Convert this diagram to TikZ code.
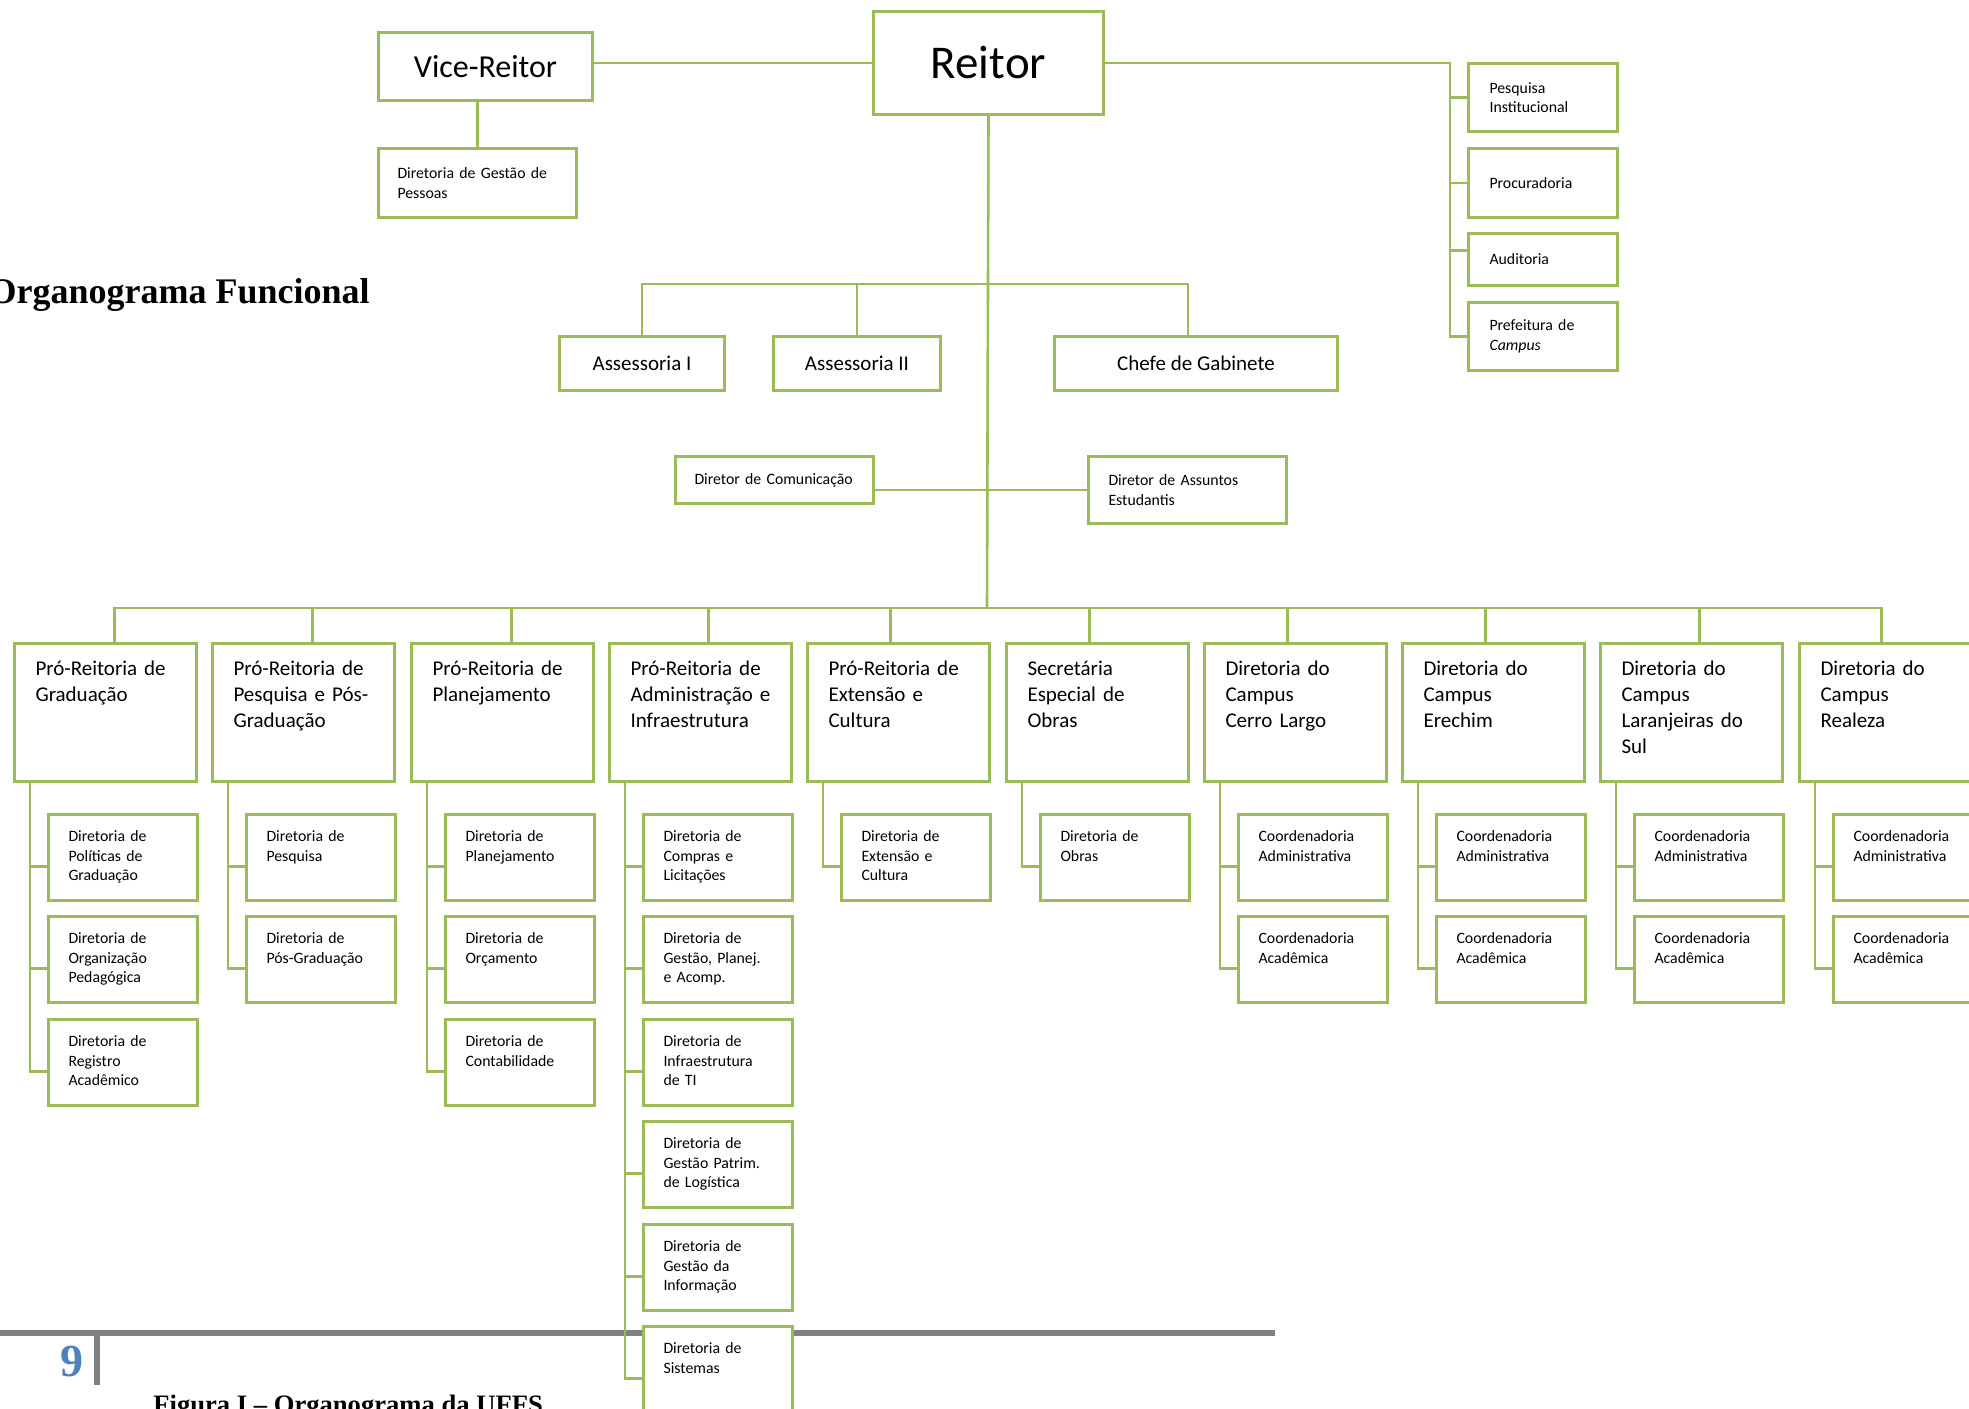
\documentclass[tikz,border=0pt]{standalone}
\usepackage{fontspec}
\setmainfont{Carlito}
\newfontfamily\timesfont{Liberation Serif}
\usepackage{tikz}

\definecolor{orggreen}{HTML}{9BBB59}
\definecolor{footgray}{HTML}{808080}
\definecolor{pageblue}{HTML}{4F81BD}

\def\bigfont{\fontsize{10.5}{13}\selectfont}
\def\smallfont{\fontsize{7.9}{9.75}\selectfont}

\tikzset{
	unit/.style={draw=orggreen, line width=1.5pt, fill=white, anchor=north west, inner sep=0pt},
	link/.style={draw=orggreen, line width=1.3pt},
	headcell/.style={unit, align=center},
	sidecell/.style={unit, inner xsep=10.5pt, text width=53.5pt, align=left, font=\smallfont},
	prcell/.style={unit, inner xsep=10.5pt, text width=70pt, align=left, text height=16pt, text depth=53pt, font=\bigfont},
	subcell/.style={unit, inner xsep=10pt, text width=54.5pt, align=left, text height=13.5pt, text depth=29.5pt, font=\smallfont},
	plain/.style={inner sep=0pt},
}

\begin{document}
\begin{tikzpicture}[x=0.5pt, y=-0.5pt]
		%%%%% START %%%%%
		\useasboundingbox (0, 0) rectangle (1969, 1408);
		
		\draw[line width=3pt, color=footgray] (0, 1333) -- (1275, 1333);
		\draw[line width=3pt, color=footgray] (97, 1336) -- (97, 1385);
		
		\node[plain, anchor=base east, font=\timesfont\bfseries\fontsize{18}{22}\selectfont] (title) at (370, 303) {Organograma Funcional};
		\node[plain, anchor=base, text=pageblue, font=\timesfont\bfseries\fontsize{23}{27}\selectfont] (pagenum) at (71.5, 1376) {9};
		\node[plain, anchor=base west, font=\timesfont\bfseries\fontsize{13.3}{16}\selectfont] (caption) at (153, 1413) {Figura I – Organograma da UFFS};
		
		\node[headcell, minimum width=115pt, minimum height=51.5pt, font=\fontsize{23.5}{28}\selectfont] (reitor) at (872, 10) {Reitor};
		\node[headcell, minimum width=107pt, minimum height=34pt, font=\fontsize{16}{19}\selectfont] (vice) at (377, 31) {Vice-Reitor};
		\node[sidecell, text width=80pt, inner xsep=9.5pt, minimum height=34.5pt] (pessoas) at (377, 147) {Diretoria de Gestão de\\Pessoas};
		
		\node[sidecell, minimum height=34pt] (pesqinst) at (1467, 62) {Pesquisa\\Institucional};
		\node[sidecell, minimum height=34.5pt] (procur) at (1467, 147) {Procuradoria};
		\node[sidecell, minimum height=26pt] (audit) at (1467, 232) {Auditoria};
		\node[sidecell, minimum height=34pt] (prefeit) at (1467, 301) {Prefeitura de\\\textit{Campus}};
		
		\node[headcell, minimum width=82.5pt, minimum height=27pt, font=\bigfont] (assessI) at (558, 335) {Assessoria I};
		\node[headcell, minimum width=83.5pt, minimum height=27pt, font=\bigfont] (assessII) at (772, 335) {Assessoria II};
		\node[headcell, minimum width=141.5pt, minimum height=27pt, font=\bigfont] (chefe) at (1053, 335) {Chefe de Gabinete};
		
		\node[sidecell, text width=80pt, inner xsep=9.5pt, minimum height=23.5pt] (comunic) at (674, 455) {Diretor de Comunicação};
		\node[sidecell, text width=79pt, inner xsep=10pt, minimum height=33.5pt] (estud) at (1087, 455) {Diretor de Assuntos\\Estudantis};
		
		% pro-reitorias, secretaria e campi
		\node[prcell] (prgrad) at (13, 642) {Pró-Reitoria de\\Graduação};
		\node[prcell] (prpesq) at (211, 642) {Pró-Reitoria de\\Pesquisa e Pós-\\Graduação};
		\node[prcell] (prplan) at (410, 642) {Pró-Reitoria de\\Planejamento};
		\node[prcell] (pradm) at (608, 642) {Pró-Reitoria de\\Administração~e\\Infraestrutura};
		\node[prcell] (prext) at (806, 642) {Pró-Reitoria de\\Extensão e\\Cultura};
		\node[prcell] (secobras) at (1005, 642) {Secretária\\Especial de\\Obras};
		\node[prcell] (dcerro) at (1203, 642) {Diretoria do\\Campus\\Cerro Largo};
		\node[prcell] (derech) at (1401, 642) {Diretoria do\\Campus\\Erechim};
		\node[prcell] (dlaran) at (1599, 642) {Diretoria do\\Campus\\Laranjeiras do\\Sul};
		\node[prcell] (dreal) at (1798, 642) {Diretoria do\\Campus\\Realeza};
		
		\node[subcell] (dpolit) at (47, 813) {Diretoria de\\Políticas de\\Graduação};
		\node[subcell] (dorgped) at (47, 915) {Diretoria de\\Organização\\Pedagógica};
		\node[subcell] (dregacad) at (47, 1018) {Diretoria de\\Registro\\Acadêmico};
		
		\node[subcell] (dpesq) at (245, 813) {Diretoria de\\Pesquisa};
		\node[subcell] (dposgrad) at (245, 915) {Diretoria de\\Pós-Graduação};
		
		\node[subcell] (dplan) at (444, 813) {Diretoria de\\Planejamento};
		\node[subcell] (dorcam) at (444, 915) {Diretoria de\\Orçamento};
		\node[subcell] (dcontab) at (444, 1018) {Diretoria de\\Contabilidade};
		
		\node[subcell] (dcompras) at (642, 813) {Diretoria de\\Compras e\\Licitações};
		\node[subcell] (dgestplan) at (642, 915) {Diretoria de\\Gestão, Planej.\\e Acomp.};
		\node[subcell] (dinfra) at (642, 1018) {Diretoria de\\Infraestrutura\\de TI};
		\node[subcell] (dpatrim) at (642, 1120) {Diretoria de\\Gestão Patrim.\\de Logística};
		\node[subcell] (dinform) at (642, 1223) {Diretoria de\\Gestão da\\Informação};
		\node[subcell] (dsist) at (642, 1325) {Diretoria de\\Sistemas};
		
		\node[subcell] (dextcult) at (840, 813) {Diretoria de\\Extensão e\\Cultura};
		\node[subcell] (dobras) at (1039, 813) {Diretoria de\\Obras};
		
		\node[subcell] (cerroadm) at (1237, 813) {Coordenadoria\\Administrativa};
		\node[subcell] (cerroacad) at (1237, 915) {Coordenadoria\\Acadêmica};
		\node[subcell] (erechadm) at (1435, 813) {Coordenadoria\\Administrativa};
		\node[subcell] (erechacad) at (1435, 915) {Coordenadoria\\Acadêmica};
		\node[subcell] (laranadm) at (1633, 813) {Coordenadoria\\Administrativa};
		\node[subcell] (laranacad) at (1633, 915) {Coordenadoria\\Acadêmica};
		\node[subcell] (realadm) at (1832, 813) {Coordenadoria\\Administrativa};
		\node[subcell] (realacad) at (1832, 915) {Coordenadoria\\Acadêmica};
		
		% ligacoes
		\coordinate (asshub) at (987, 284);
		\coordinate (hub) at (987, 608);
		\draw[link] (reitor.south) -- (hub);
		\draw[link] (reitor.west) -- (reitor.west -| vice.east);
		\draw[link] (pessoas.north) -- (pessoas.north |- vice.south);
		
		\draw[link] (reitor.east) -| ([xshift=-8.5pt]prefeit.west) -- (prefeit.west);
		\draw[link] ([xshift=-8.5pt]pesqinst.west) -- (pesqinst.west);
		\draw[link] ([xshift=-8.5pt]procur.west) -- (procur.west);
		\draw[link] ([xshift=-8.5pt, yshift=4.5pt]audit.west) -- ([yshift=4.5pt]audit.west);
		
		\draw[link] (asshub) -| (assessI.north);
		\draw[link] (asshub) -| (assessII.north);
		\draw[link] (asshub) -| ([xshift=-4pt]chefe.north);
		\draw[link] (comunic.east |- estud.west) -- (estud.west);
		
		\draw[link] (hub) -| ([xshift=4.5pt]prgrad.north);
		\draw[link] (hub) -| ([xshift=4.5pt]prpesq.north);
		\draw[link] (hub) -| ([xshift=4.5pt]prplan.north);
		\draw[link] (hub) -| ([xshift=4pt]pradm.north);
		\draw[link] (hub) -| ([xshift=-4pt]prext.north);
		\draw[link] (hub) -| ([xshift=-4pt]secobras.north);
		\draw[link] (hub) -| ([xshift=-4pt]dcerro.north);
		\draw[link] (hub) -| ([xshift=-4pt]derech.north);
		\draw[link] (hub) -| ([xshift=4pt]dlaran.north);
		\draw[link] (hub) -| ([xshift=-4.5pt]dreal.north);
		
		\draw[link] ([xshift=8.5pt]prgrad.south west) |- ([yshift=-4.5pt]dpolit.west);
		\draw[link] ([xshift=8.5pt]prgrad.south west) |- ([yshift=-4.5pt]dorgped.west);
		\draw[link] ([xshift=8.5pt]prgrad.south west) |- ([yshift=-4.5pt]dregacad.west);
		\draw[link] ([xshift=8.5pt]prpesq.south west) |- ([yshift=-4.5pt]dpesq.west);
		\draw[link] ([xshift=8.5pt]prpesq.south west) |- ([yshift=-4.5pt]dposgrad.west);
		\draw[link] ([xshift=8.5pt]prplan.south west) |- ([yshift=-4.5pt]dplan.west);
		\draw[link] ([xshift=8.5pt]prplan.south west) |- ([yshift=-4.5pt]dorcam.west);
		\draw[link] ([xshift=8.5pt]prplan.south west) |- ([yshift=-4.5pt]dcontab.west);
		\draw[link] ([xshift=8.5pt]pradm.south west) |- ([yshift=-4.5pt]dcompras.west);
		\draw[link] ([xshift=8.5pt]pradm.south west) |- ([yshift=-4.5pt]dgestplan.west);
		\draw[link] ([xshift=8.5pt]pradm.south west) |- ([yshift=-4.5pt]dinfra.west);
		\draw[link] ([xshift=8.5pt]pradm.south west) |- ([yshift=-4.5pt]dpatrim.west);
		\draw[link] ([xshift=8.5pt]pradm.south west) |- ([yshift=-4.5pt]dinform.west);
		\draw[link] ([xshift=8.5pt]pradm.south west) |- ([yshift=-4.5pt]dsist.west);
		\draw[link] ([xshift=8.5pt]prext.south west) |- ([yshift=-4.5pt]dextcult.west);
		\draw[link] ([xshift=8.5pt]secobras.south west) |- ([yshift=-4.5pt]dobras.west);
		\draw[link] ([xshift=8.5pt]dcerro.south west) |- ([yshift=-4.5pt]cerroadm.west);
		\draw[link] ([xshift=8.5pt]dcerro.south west) |- ([yshift=-4.5pt]cerroacad.west);
		\draw[link] ([xshift=8.5pt]derech.south west) |- ([yshift=-4.5pt]erechadm.west);
		\draw[link] ([xshift=8.5pt]derech.south west) |- ([yshift=-4.5pt]erechacad.west);
		\draw[link] ([xshift=8.5pt]dlaran.south west) |- ([yshift=-4.5pt]laranadm.west);
		\draw[link] ([xshift=8.5pt]dlaran.south west) |- ([yshift=-4.5pt]laranacad.west);
		\draw[link] ([xshift=8.5pt]dreal.south west) |- ([yshift=-4.5pt]realadm.west);
		\draw[link] ([xshift=8.5pt]dreal.south west) |- ([yshift=-4.5pt]realacad.west);
		
		%%%%% END %%%%%
\end{tikzpicture}
\end{document}
